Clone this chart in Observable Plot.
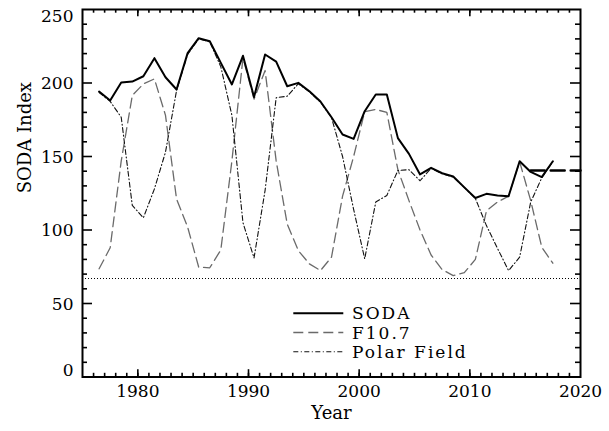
<!DOCTYPE html>
<html>
<head>
<meta charset="utf-8">
<script src="https://cdn.jsdelivr.net/npm/d3@7"></script>
<script src="https://cdn.jsdelivr.net/npm/@observablehq/plot@0.6"></script>
<style>
  html, body { margin: 0; padding: 0; background: #fff; }
  #chart { position: relative; width: 609px; height: 431px; }
</style>
</head>
<body>
<div id="chart"></div>
<script>
// mid-year sample times
const years = [1976.5,1977.5,1978.5,1979.5,1980.5,1981.5,1982.5,1983.5,1984.5,1985.5,
  1986.5,1987.5,1988.5,1989.5,1990.5,1991.5,1992.5,1993.5,1994.5,1995.5,
  1996.5,1997.5,1998.5,1999.5,2000.5,2001.5,2002.5,2003.5,2004.5,2005.5,
  2006.5,2007.5,2008.5,2009.5,2010.5,2011.5,2012.5,2013.5,2014.5,2015.5,
  2016.5,2017.5];
const soda = [194.2,188.1,200.3,201,204.6,216.9,203.9,195.6,220.3,230.5,
  228.4,213.7,199,218.5,190.5,219.4,214.6,197.8,200.1,194.4,
  187.4,176.7,165,162,180.8,192.2,192.2,162.5,151.8,137.8,
  142.3,138.6,136.4,129,121.8,124.6,123.5,123,146.8,139.5,
  136,146.8];
const f107 = [73.6,87.9,147,191.5,199.4,202.8,178,121,102,74.7,
  74.3,86.5,147,217,189,208.5,147,104,86,77,
  72.4,81.5,123,150,180.5,182,180,141,120,100,
  83,73,69,71,80,113,119,123,146.5,120,
  88.3,77.4];
const polar = [193.5,187.5,176.7,116.7,108.3,128,153,194.9,219.5,230,
  228,211,178,105,81,127,190,191,199.5,194,
  187,176.5,150,114,80.4,119,123.5,140.5,141,133.5,
  142,138.3,136,129,121.5,103,87.5,72.4,81.5,119,
  135.5,146.5];
const baselineLevel = [67];
const forecastYears = [2015.5, 2020];
const forecastValues = [140.5, 140.5];
const xTickLabels = [1980, 1990, 2000, 2010, 2020];
const yTickLabels = [0, 50, 100, 150, 200, 250];
const legendNames = ["SODA", "F10.7", "Polar Field"];

const rows = years.map((y, i) => ({year: y, soda: soda[i], f107: f107[i], polar: polar[i]}));
const forecast = forecastYears.map((y, i) => ({year: y, value: forecastValues[i]}));

const W = 609, H = 431;
const mL = 82, mR = 29, mT = 9, mB = 54.5;
const innerW = W - mL - mR, innerH = H - mT - mB;
const xMinor = d3.range(1976, 2020);
const xMajor = [1980, 1990, 2000, 2010];
const yMinor = d3.range(10, 250, 10).filter(v => v % 50 !== 0);
const yMajor = [50, 100, 150, 200];
const xMajLen = 7.3, xMinLen = 3.7, yMajLen = 10, yMinLen = 5;
const FONT = "DejaVu Serif";

const lineStyles = {
  soda: {stroke: "#000", strokeWidth: 2, strokeDasharray: null},
  f107: {stroke: "#6a6a6a", strokeWidth: 1.3, strokeDasharray: "10,5"},
  polar: {stroke: "#111", strokeWidth: 1.1, strokeDasharray: "5,2.5,1,2.5"}
};

const plot = Plot.plot({
  width: W, height: H,
  marginLeft: mL, marginRight: mR, marginTop: mT, marginBottom: mB,
  style: {fontFamily: FONT, background: "#fff", color: "#000"},
  x: {domain: [1975, 2020], axis: null},
  y: {domain: [0, 250], axis: null},
  marks: [
    Plot.ruleY(baselineLevel, {stroke: "#000", strokeWidth: 1.2, strokeDasharray: "1,2"}),
    Plot.line(rows, {x: "year", y: "f107", ...lineStyles.f107}),
    Plot.line(rows, {x: "year", y: "polar", ...lineStyles.polar}),
    Plot.line(rows, {x: "year", y: "soda", ...lineStyles.soda}),
    Plot.line(forecast, {x: "year", y: "value", stroke: "#000", strokeWidth: 2.5, strokeDasharray: "14,6"}),
    // inward ticks, all four sides
    Plot.tickX(xMajor, {x: d => d, insetTop: innerH - xMajLen, strokeWidth: 1.6}),
    Plot.tickX(xMinor, {x: d => d, insetTop: innerH - xMinLen, strokeWidth: 1.6}),
    Plot.tickX(xMajor, {x: d => d, insetBottom: innerH - xMajLen, strokeWidth: 1.6}),
    Plot.tickX(xMinor, {x: d => d, insetBottom: innerH - xMinLen, strokeWidth: 1.6}),
    Plot.tickY(yMajor, {y: d => d, insetRight: innerW - yMajLen, strokeWidth: 1.6}),
    Plot.tickY(yMinor, {y: d => d, insetRight: innerW - yMinLen, strokeWidth: 1.6}),
    Plot.tickY(yMajor, {y: d => d, insetLeft: innerW - yMajLen, strokeWidth: 1.6}),
    Plot.tickY(yMinor, {y: d => d, insetLeft: innerW - yMinLen, strokeWidth: 1.6}),
    Plot.frame({stroke: "#000", strokeWidth: 2}),
    // tick labels
    Plot.text(xTickLabels, {x: d => d, text: d => String(d), frameAnchor: "bottom", dy: 19.5, fontSize: 17, fill: "#000", ariaLabel: "xticklabels"}),
    Plot.text(yTickLabels.filter(v => v !== 0 && v !== 250), {y: d => d, text: d => String(d), frameAnchor: "left", textAnchor: "end", dx: -9, dy: 1, fontSize: 17, fill: "#000", ariaLabel: "yticklabels"}),
    Plot.text(yTickLabels.filter(v => v === 250), {y: d => d, text: d => String(d), frameAnchor: "left", textAnchor: "end", dx: -9, dy: 7, fontSize: 17, fill: "#000", ariaLabel: "yticklabels"}),
    Plot.text(yTickLabels.filter(v => v === 0), {y: d => d, text: d => String(d), frameAnchor: "left", textAnchor: "end", dx: -9, dy: -6, fontSize: 17, fill: "#000", ariaLabel: "yticklabels"}),
    // axis titles
    Plot.text(["Year"], {frameAnchor: "bottom", dy: 41.5, fontSize: 18, fill: "#000", ariaLabel: "xtitle"}),
    Plot.text(["SODA Index"], {frameAnchor: "left", dx: -57, rotate: -90, fontSize: 18, fill: "#000", ariaLabel: "ytitle"})
  ]
});

const svg = d3.select(plot);
svg.selectAll('g[aria-label="xticklabels"] text, g[aria-label="yticklabels"] text').attr("letter-spacing", 1);
svg.selectAll('g[aria-label="xtitle"] text').attr("letter-spacing", 1.5);
svg.selectAll('g[aria-label="ytitle"] text').attr("letter-spacing", 1);

// legend
const legendKeys = ["soda", "f107", "polar"];
const lg = svg.append("g").attr("aria-label", "legend").attr("text-anchor", "start");
legendKeys.forEach((k, i) => {
  const yy = 313.3 + i * 19.2;
  const st = lineStyles[k];
  lg.append("line")
    .attr("x1", 293.3).attr("x2", 343.3).attr("y1", yy).attr("y2", yy)
    .attr("stroke", st.stroke).attr("stroke-width", st.strokeWidth)
    .attr("stroke-dasharray", st.strokeDasharray);
  lg.append("text")
    .attr("x", 352).attr("y", yy).attr("dy", "0.36em")
    .attr("text-anchor", "start")
    .attr("font-family", FONT).attr("font-size", 17).attr("letter-spacing", 2)
    .attr("fill", "#000")
    .text(legendNames[i]);
});

document.getElementById("chart").appendChild(plot);
</script>
</body>
</html>
